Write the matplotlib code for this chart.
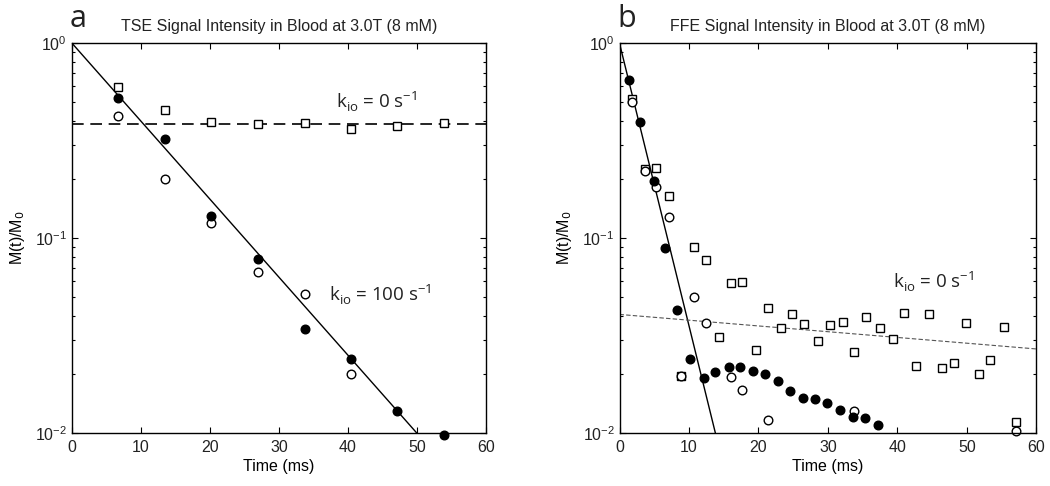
import numpy as np
import matplotlib
matplotlib.use("Agg")
import matplotlib.pyplot as plt

plt.rcParams["font.family"] = ["Liberation Sans", "DejaVu Sans"]
plt.rcParams["text.color"] = "#222222"
plt.rcParams["xtick.labelcolor"] = "#222222"
plt.rcParams["ytick.labelcolor"] = "#222222"

# --- panel a: TSE ---
tse_t = [6.7, 13.5, 20.1, 26.9, 33.8, 40.4, 47.2, 53.9]
tse_sq = [0.597, 0.457, 0.395, 0.383, 0.388, 0.361, 0.377, 0.388]
tse_filled = [0.522, 0.322, 0.130, 0.078, 0.0341, 0.024, 0.013, 0.0098]
tse_open = [0.421, 0.202, 0.119, 0.0667, 0.0514, 0.020]
tse_fast_decay = 25.0     # ms per decade (kio = 100 s^-1 fit)
tse_slow_level = 0.383    # kio = 0 fit

# --- panel b: FFE ---
ffe_sq_t = [1.8, 3.6, 5.3, 7.1, 8.9, 10.7, 12.5, 14.3, 16.0, 17.6, 19.7, 21.4,
            23.2, 24.8, 26.6, 28.5, 30.3, 32.1, 33.8, 35.5, 37.5, 39.3, 41.0,
            42.7, 44.5, 46.4, 48.2, 49.9, 51.7, 53.4, 55.3, 57.1]
ffe_sq = [0.516, 0.226, 0.230, 0.165, 0.0196, 0.090, 0.0768, 0.031, 0.0586,
          0.0595, 0.0267, 0.0439, 0.0347, 0.0406, 0.0363, 0.0295, 0.0357,
          0.037, 0.026, 0.0394, 0.0347, 0.0305, 0.0412, 0.0222, 0.0406,
          0.0215, 0.0229, 0.0368, 0.020, 0.0236, 0.0352, 0.0114]
ffe_filled_t = [1.3, 3.0, 5.0, 6.6, 8.3, 10.1, 12.1, 13.8, 15.7, 17.4, 19.2,
                21.0, 22.8, 24.5, 26.4, 28.2, 29.9, 31.8, 33.6, 35.4, 37.2]
ffe_filled = [0.646, 0.395, 0.196, 0.0885, 0.0426, 0.024, 0.0192, 0.0205,
              0.0219, 0.0219, 0.0208, 0.020, 0.0185, 0.0164, 0.0151, 0.0149,
              0.0143, 0.0131, 0.0121, 0.0119, 0.011]
ffe_open_t = [1.8, 3.6, 5.3, 7.1, 8.9, 10.7, 12.5, 16.0, 17.6, 21.4, 33.8, 57.1]
ffe_open = [0.50, 0.22, 0.182, 0.129, 0.0196, 0.0498, 0.0368, 0.0194, 0.0166,
            0.0117, 0.013, 0.0102]
ffe_fast_decay = 6.9               # ms per decade
ffe_slow = (0.0406, 0.027)         # kio = 0 fit at t=0 and t=60


def style_axes(ax, label, title):
    ax.set_yscale("log")
    ax.set_xlim(0, 60)
    ax.set_ylim(1e-2, 1)
    ax.set_xticks(np.arange(0, 61, 10))
    ax.tick_params(which="both", direction="in", top=True, right=True,
                   labelsize=11.5, width=0.8)
    ax.tick_params(which="major", length=4)
    ax.tick_params(which="minor", length=2)
    ax.tick_params(axis="x", pad=5)
    for s in ax.spines.values():
        s.set_linewidth(1.0)
    ax.set_xlabel("Time (ms)", fontsize=11.5, labelpad=3)
    ax.set_ylabel("M(t)/M$_0$", fontsize=11.5, labelpad=6)
    ax.set_title(title, fontsize=11.5, pad=9)
    ax.text(-0.005, 1.025, label, transform=ax.transAxes, fontsize=22,
            family=["Open Sans", "DejaVu Sans"], ha="left", va="bottom")


fig = plt.figure(figsize=(10.5, 4.86), dpi=100)
axa = fig.add_axes([0.0686, 0.109, 0.394, 0.802])
axb = fig.add_axes([0.590, 0.109, 0.397, 0.802])

circ = dict(markersize=6.2, markeredgewidth=1.0, linestyle="none", clip_on=False)
sq = dict(markersize=5.6, markeredgewidth=1.0, linestyle="none", clip_on=False)
ann = dict(fontsize=13.5, family=["Open Sans", "DejaVu Sans"])

# panel a
tt = np.array([0, 60])
axa.plot(tt, 10 ** (-tt / tse_fast_decay), color="black", lw=1.0)
axa.axhline(tse_slow_level, color="black", lw=1.2, dashes=(7, 4))
axa.plot(tse_t, tse_sq, marker="s", mfc="white", mec="black", **sq)
axa.plot(tse_t[:len(tse_open)], tse_open, marker="o", mfc="white", mec="black", **circ)
axa.plot(tse_t, tse_filled, marker="o", mfc="black", mec="black", **circ)
axa.text(38.3, 0.46, "k$_{\\mathregular{io}}$ = 0 s$^{\\mathregular{-1}}$", **ann)
axa.text(37.3, 0.047, "k$_{\\mathregular{io}}$ = 100 s$^{\\mathregular{-1}}$", **ann)
style_axes(axa, "a", "TSE Signal Intensity in Blood at 3.0T (8 mM)")

# panel b
axb.plot(tt, 10 ** (-tt / ffe_fast_decay), color="black", lw=1.0)
axb.plot(tt, ffe_slow, color="#555555", lw=0.8, dashes=(4, 2))
axb.plot(ffe_sq_t, ffe_sq, marker="s", mfc="white", mec="black", **sq)
axb.plot(ffe_open_t, ffe_open, marker="o", mfc="white", mec="black", **circ)
axb.plot(ffe_filled_t, ffe_filled, marker="o", mfc="black", mec="black", **circ)
axb.text(39.3, 0.055, "k$_{\\mathregular{io}}$ = 0 s$^{\\mathregular{-1}}$", **ann)
style_axes(axb, "b", "FFE Signal Intensity in Blood at 3.0T (8 mM)")

fig.savefig("out.png", dpi=100)
